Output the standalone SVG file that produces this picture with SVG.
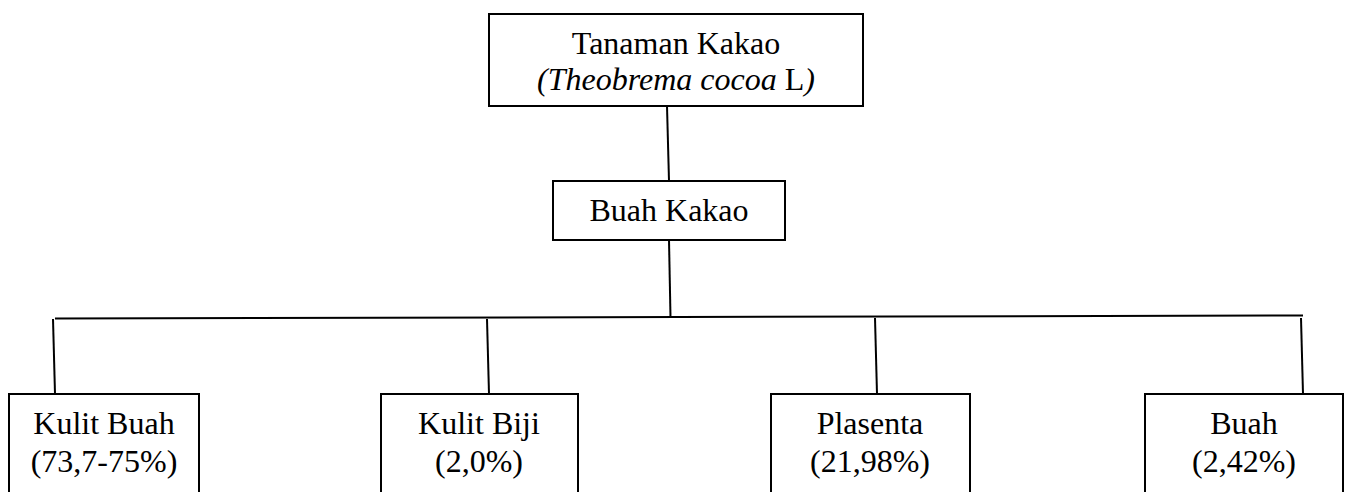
<svg xmlns="http://www.w3.org/2000/svg" width="1347" height="492" viewBox="0 0 1347 492">
<style>
.box{fill:#fff;stroke:#000;stroke-width:2}
.ln{stroke:#000;stroke-width:2;fill:none}
.t{font-family:'Liberation Serif','DejaVu Serif',serif;font-size:32px;fill:#000;text-anchor:middle}
.it{font-style:italic}
</style>
<rect width="1347" height="492" fill="#fff"/>
<g id="connectors">
<line class="ln" x1="667" y1="106" x2="669" y2="181"/>
<line class="ln" x1="669" y1="240" x2="670.5" y2="317"/>
<line class="ln" x1="55" y1="318.5" x2="1303" y2="315.5"/>
<line class="ln" x1="53" y1="319" x2="55" y2="394"/>
<line class="ln" x1="487" y1="319" x2="489" y2="394"/>
<line class="ln" x1="875" y1="318" x2="877" y2="394"/>
<line class="ln" x1="1301" y1="318" x2="1303" y2="394"/>
</g>
<g id="tanaman">
<rect class="box" x="489" y="14" width="374" height="92"/>
<text class="t" x="676" y="54">Tanaman Kakao</text>
<text class="t" x="676" y="90"><tspan class="it">(Theobrema cocoa</tspan> L<tspan class="it">)</tspan></text>
</g>
<g id="buahkakao">
<rect class="box" x="553" y="181" width="232" height="59"/>
<text class="t" x="669" y="221">Buah Kakao</text>
</g>
<g id="kulitbuah">
<rect class="box" x="9" y="394" width="190" height="110"/>
<text class="t" x="104" y="434">Kulit Buah</text>
<text class="t" x="104" y="472">(73,7-75%)</text>
</g>
<g id="kulitbiji">
<rect class="box" x="381" y="394" width="197" height="110"/>
<text class="t" x="479" y="434">Kulit Biji</text>
<text class="t" x="479" y="472">(2,0%)</text>
</g>
<g id="plasenta">
<rect class="box" x="771" y="394" width="199" height="110"/>
<text class="t" x="870" y="434">Plasenta</text>
<text class="t" x="870" y="472">(21,98%)</text>
</g>
<g id="buah">
<rect class="box" x="1145" y="394" width="198" height="110"/>
<text class="t" x="1244" y="434">Buah</text>
<text class="t" x="1244" y="472">(2,42%)</text>
</g>
</svg>
